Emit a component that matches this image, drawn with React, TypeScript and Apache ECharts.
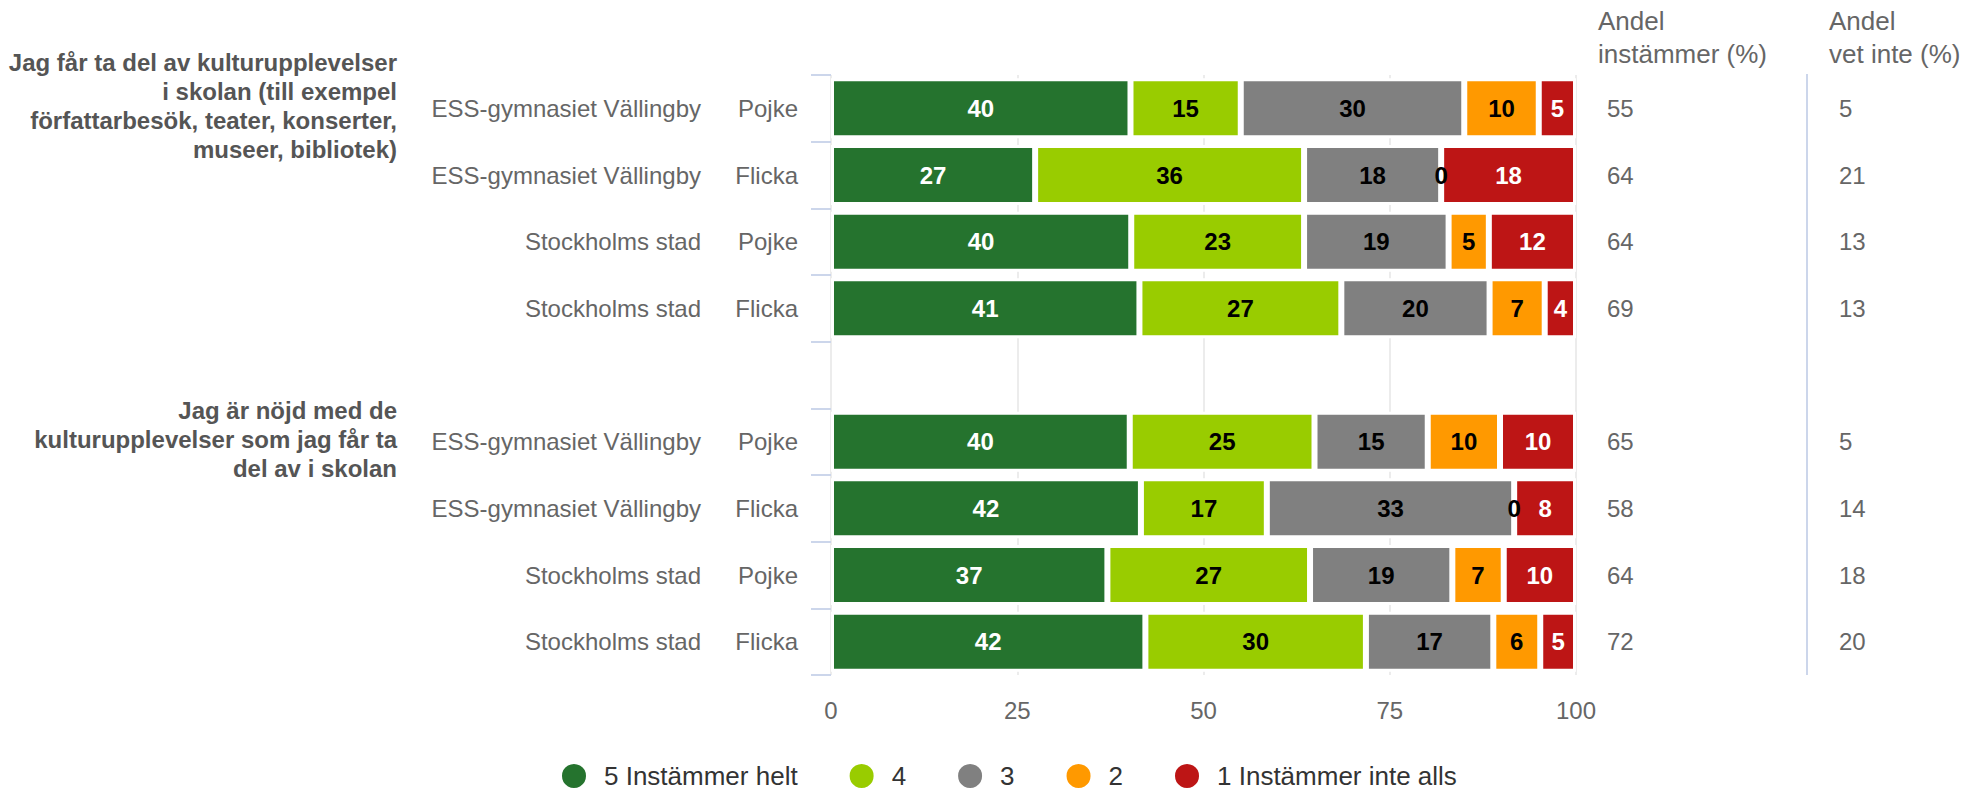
import React, { useEffect, useRef } from "react";
import * as echarts from "echarts";

const FONT = "'Liberation Sans', Arial, sans-serif";

const schools = [
  "ESS-gymnasiet Vällingby",
  "ESS-gymnasiet Vällingby",
  "Stockholms stad",
  "Stockholms stad",
  "",
  "ESS-gymnasiet Vällingby",
  "ESS-gymnasiet Vällingby",
  "Stockholms stad",
  "Stockholms stad",
];
const genders = ["Pojke", "Flicka", "Pojke", "Flicka", "", "Pojke", "Flicka", "Pojke", "Flicka"];

const groupLabels = [
  { text: "Jag får ta del av kulturupplevelser\ni skolan (till exempel\nförfattarbesök, teater, konserter,\nmuseer, bibliotek)", firstIndex: 0 },
  { text: "Jag är nöjd med de\nkulturupplevelser som jag får ta\ndel av i skolan", firstIndex: 5 },
];

const seriesNames = ["5 Instämmer helt", "4", "3", "2", "1 Instämmer inte alls"];
const seriesColors = ["#25732E", "#99CC00", "#808080", "#FF9900", "#BD1515"];
const labelColors = ["#ffffff", "#000000", "#000000", "#000000", "#ffffff"];

const s5 = [40.2, 27.4, 40.3, 41.4, null, 40.1, 41.6, 37.1, 42.2];
const s4 = [14.8, 36.1, 23.2, 27.1, null, 24.8, 16.9, 27.2, 29.6];
const s3 = [30.0, 18.4, 19.4, 19.9, null, 15.2, 33.2, 19.1, 17.1];
const s2 = [10.0, 0, 5.4, 7.4, null, 9.7, 0, 6.9, 6.3];
const s1 = [5.0, 18.1, 11.7, 4.2, null, 10.2, 8.3, 9.7, 4.8];
const seriesValues = [s5, s4, s3, s2, s1];

const instammer = [55, 64, 64, 69, null, 65, 58, 64, 72];
const vetInte = [5, 21, 13, 13, null, 5, 14, 18, 20];

const headerInstammer = "Andel\ninstämmer (%)";
const headerVetInte = "Andel\nvet inte (%)";

const xTicks = { min: 0, max: 100, interval: 25 };

export default function App() {
  const ref = useRef<HTMLDivElement>(null);

  useEffect(() => {
    document.body.style.margin = "0";
    if (!ref.current) return;
    const chart = echarts.init(ref.current, undefined, { renderer: "svg" });
    const cats = schools.map((s, i) => `${s} ${genders[i]} ${i}`);

    const option: any = {
      animation: false,
      textStyle: { fontFamily: FONT },
      grid: { left: 831, width: 745, top: 75, height: 600, containLabel: false },
      legend: {
        left: 560,
        top: 762,
        padding: 0,
        icon: "circle",
        itemWidth: 26,
        itemHeight: 26,
        itemGap: 50,
        data: seriesNames,
        textStyle: { fontSize: 26, color: "#333", fontFamily: FONT, padding: [0, 0, 0, 12] },
      },
      xAxis: {
        type: "value",
        min: xTicks.min,
        max: xTicks.max,
        interval: xTicks.interval,
        axisLine: { show: false },
        axisTick: { show: false },
        splitLine: { show: true, lineStyle: { color: "#e6e6e6", width: 1.5 } },
        axisLabel: { fontSize: 24, color: "#666", margin: 23, fontFamily: FONT },
      },
      yAxis: [
        {
          type: "category",
          inverse: true,
          data: cats,
          axisLine: { show: false },
          axisTick: { show: true, length: 20, lineStyle: { color: "#ccd6eb", width: 2 } },
          splitLine: { show: false },
          axisLabel: {
            interval: 0,
            margin: 33,
            formatter: (_v: string, i: number) =>
              schools[i] ? `{s|${schools[i]}}{g|${genders[i]}}` : "",
            rich: {
              s: { fontSize: 24, color: "#666", fontFamily: FONT },
              g: { fontSize: 24, color: "#666", fontFamily: FONT, width: 97, align: "right" },
            },
          },
        },
        {
          type: "category",
          inverse: true,
          position: "right",
          data: cats,
          axisLine: { show: false },
          axisTick: { show: false },
          splitLine: { show: false },
          axisLabel: {
            interval: 0,
            margin: 31,
            align: "left",
            formatter: (_v: string, i: number) =>
              instammer[i] == null ? "" : `{a|${instammer[i]}}{b|${vetInte[i]}}`,
            rich: {
              a: { fontSize: 24, color: "#666", fontFamily: FONT, width: 232, align: "left" },
              b: { fontSize: 24, color: "#666", fontFamily: FONT, align: "left" },
            },
          },
        },
      ],
      series: seriesNames.map((name, k) => ({
        name,
        type: "bar",
        stack: "total",
        yAxisIndex: 0,
        barWidth: 60,
        data: seriesValues[k],
        itemStyle: { color: seriesColors[k], borderColor: "#ffffff", borderWidth: 3 },
        label: {
          show: true,
          position: "inside",
          fontSize: 24,
          fontWeight: "bold",
          fontFamily: FONT,
          color: labelColors[k],
          formatter: (p: any) => (p.value == null ? "" : String(Math.round(p.value))),
        },
      })),
    };
    chart.setOption(option);

    const graphics: any[] = [
      {
        type: "text",
        x: 1598,
        y: 4,
        style: { text: headerInstammer, fontSize: 26, fontFamily: FONT, fill: "#666", lineHeight: 33, align: "left", verticalAlign: "top" },
      },
      {
        type: "text",
        x: 1829,
        y: 4,
        style: { text: headerVetInte, fontSize: 26, fontFamily: FONT, fill: "#666", lineHeight: 33, align: "left", verticalAlign: "top" },
      },
      {
        type: "line",
        shape: { x1: 1807, y1: 74, x2: 1807, y2: 675 },
        style: { stroke: "#ccd6eb", lineWidth: 2 },
      },
    ];
    groupLabels.forEach((g) => {
      const y = chart.convertToPixel({ yAxisIndex: 0 }, g.firstIndex) as number;
      graphics.push({
        type: "text",
        x: 397,
        y: y - 2,
        style: {
          text: g.text,
          fontSize: 24,
          fontWeight: "bold",
          fontFamily: FONT,
          fill: "#555",
          lineHeight: 29,
          align: "right",
          verticalAlign: "middle",
        },
      });
    });
    chart.setOption({ graphic: graphics });

    return () => chart.dispose();
  }, []);

  return <div ref={ref} style={{ width: 1972, height: 793 }} />;
}
